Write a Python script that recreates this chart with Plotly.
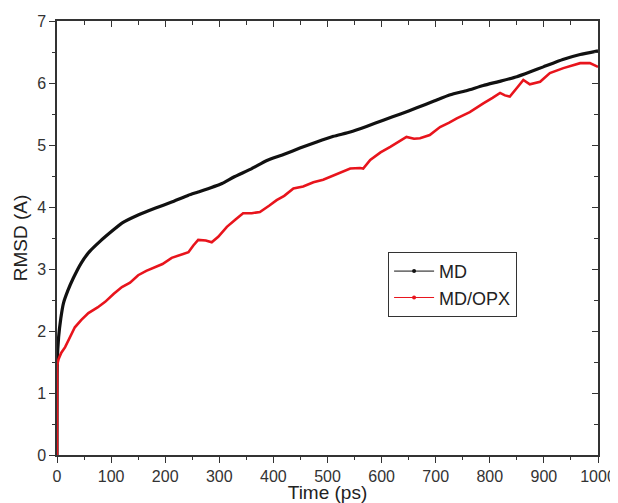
import plotly.graph_objects as go

# ---- data ----
md_t = [0, 0.5, 3, 7, 12, 20, 30, 45, 60, 80, 100, 120, 150, 181, 212, 243, 264, 305,
        326, 360, 388, 420, 449, 480, 511, 542, 572, 603, 635, 665, 697, 727, 758, 788,
        820, 850, 875, 899, 935, 967, 1000]
md_rmsd = [0, 1.5, 1.9, 2.2, 2.45, 2.65, 2.85, 3.1, 3.28, 3.45, 3.6, 3.74, 3.87, 3.98,
           4.08, 4.19, 4.25, 4.38, 4.48, 4.62, 4.75, 4.85, 4.95, 5.05, 5.14, 5.21, 5.30,
           5.40, 5.50, 5.60, 5.71, 5.81, 5.88, 5.96, 6.03, 6.10, 6.18, 6.26, 6.38, 6.46,
           6.52]

opx_t = [0, 0.3, 3, 8, 15, 24, 33, 45, 58, 75, 89, 105, 120, 135, 150, 165, 181, 195,
         212, 228, 243, 252, 261, 275, 286, 298, 314, 330, 344, 360, 375, 392, 406, 420,
         437, 455, 474, 492, 511, 528, 542, 560, 566, 579, 598, 616, 630, 646, 660, 671,
         689, 708, 725, 739, 763, 775, 788, 805, 819, 828, 837, 850, 862, 874, 893, 911,
         936, 967, 985, 1000]
opx_rmsd = [0, 1.45, 1.55, 1.65, 1.74, 1.9, 2.06, 2.18, 2.29, 2.38, 2.47, 2.6, 2.71, 2.78,
            2.9, 2.97, 3.03, 3.08, 3.18, 3.22, 3.27, 3.38, 3.47, 3.46, 3.43, 3.52, 3.68,
            3.80, 3.90, 3.90, 3.92, 4.02, 4.11, 4.18, 4.30, 4.33, 4.40, 4.44, 4.51, 4.58,
            4.62, 4.63, 4.62, 4.76, 4.88, 4.97, 5.05, 5.13, 5.10, 5.11, 5.16, 5.29, 5.36,
            5.43, 5.53, 5.60, 5.67, 5.76, 5.84, 5.80, 5.78, 5.92, 6.05, 5.98, 6.02, 6.16,
            6.24, 6.32, 6.32, 6.26]

series_names = ["MD", "MD/OPX"]
series_colors = ["#111111", "#e8141c"]

x_title = "Time (ps)"
y_title = "RMSD (A)"

FONT = "Liberation Sans, Arial, sans-serif"
AX = "#333333"

fig = go.Figure()

# main curves
fig.add_trace(go.Scatter(x=md_t, y=md_rmsd, mode="lines", showlegend=False,
                         line=dict(color=series_colors[0], width=3.2, shape="spline",
                                   smoothing=0.4)))
fig.add_trace(go.Scatter(x=opx_t, y=opx_rmsd, mode="lines", showlegend=False,
                         line=dict(color=series_colors[1], width=2.6)))

# legend entries (thin line + dot)
for name, col in zip(series_names, series_colors):
    fig.add_trace(go.Scatter(x=[None], y=[None], mode="lines+markers", name=name,
                             line=dict(color=col, width=1),
                             marker=dict(color=col, size=4)))

# invisible trace to carry the mirrored axes
fig.add_trace(go.Scatter(x=[None], y=[None], xaxis="x2", yaxis="y2", showlegend=False,
                         hoverinfo="skip"))

common_x = dict(range=[0, 1000], dtick=100, tick0=0, showgrid=False, zeroline=False,
                showline=True, linecolor=AX, linewidth=1.5, tickcolor=AX, tickwidth=1.2,
                automargin=False)
common_y = dict(range=[0, 7], dtick=1, tick0=0, showgrid=False, zeroline=False,
                showline=True, linecolor=AX, linewidth=1.5, tickcolor=AX, tickwidth=1.2,
                automargin=False)

# the page body adds an 8px offset, so the figure is sized to fit inside it
fig.update_layout(
    width=610, height=495,
    margin=dict(l=49, r=20, t=13, b=48),
    paper_bgcolor="white", plot_bgcolor="white",
    font=dict(family=FONT, color="#222222"),
    xaxis=dict(**common_x, ticks="outside", ticklen=6,
               minor=dict(ticks="outside", ticklen=3, dtick=50, tickcolor=AX, tickwidth=1.2),
               tickfont=dict(size=16, color="#333333"),
               title=dict(text=x_title, font=dict(size=19, color="#222222"), standoff=0)),
    yaxis=dict(**common_y, ticks="outside", ticklen=6,
               minor=dict(ticks="outside", ticklen=3, dtick=0.5, tickcolor=AX, tickwidth=1.2),
               tickfont=dict(size=16, color="#333333"),
               title=dict(text=y_title, font=dict(size=19, color="#222222"), standoff=4)),
    xaxis2=dict(**common_x, overlaying="x", side="top", anchor="y2", ticks="inside",
                ticklen=6, showticklabels=False,
                minor=dict(ticks="inside", ticklen=4, dtick=50, tickcolor=AX, tickwidth=1.2)),
    yaxis2=dict(**common_y, overlaying="y", side="right", anchor="x2", ticks="inside",
                ticklen=6, showticklabels=False,
                minor=dict(ticks="inside", ticklen=4, dtick=0.5, tickcolor=AX, tickwidth=1.2)),
    legend=dict(x=0.612, y=0.468, xanchor="left", yanchor="top",
                bgcolor="white", bordercolor=AX, borderwidth=1,
                font=dict(size=18, color="#222222"), tracegroupgap=0,
                itemwidth=40),
)

fig.write_html("out.html")
